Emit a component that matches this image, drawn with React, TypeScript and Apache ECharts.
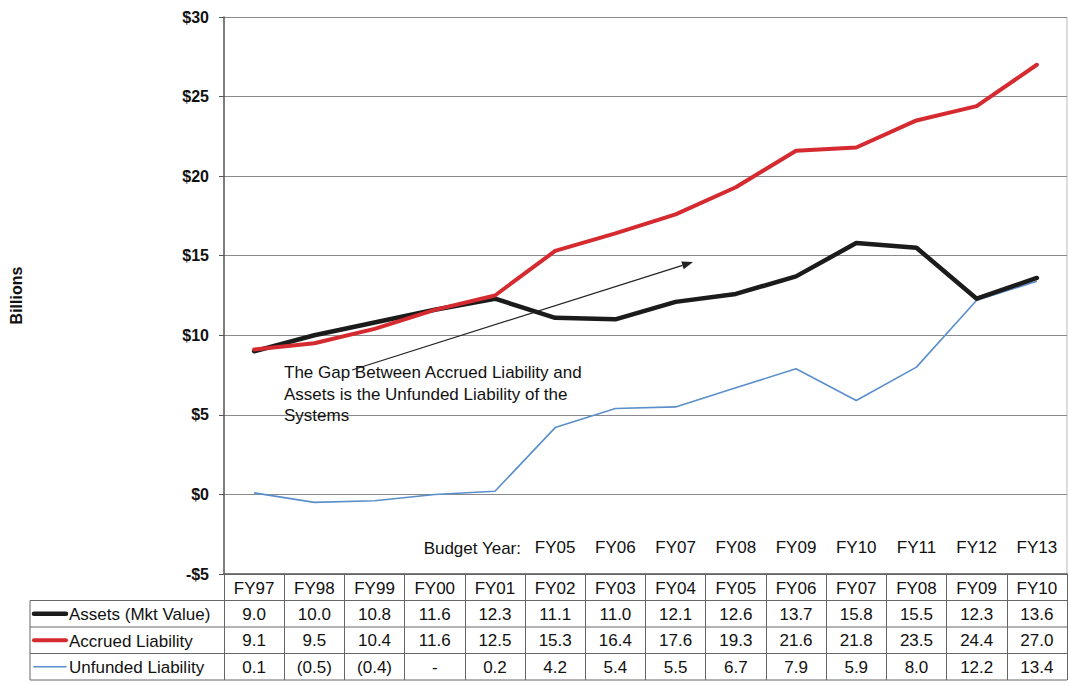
import React, { useEffect, useRef } from "react";
import * as echarts from "echarts";

// Fiscal years shown in the table header
const fiscalYears = ["FY97", "FY98", "FY99", "FY00", "FY01", "FY02", "FY03", "FY04", "FY05", "FY06", "FY07", "FY08", "FY09", "FY10"];
// Budget years printed above the table (aligned with FY02..FY10)
const budgetYears = ["", "", "", "", "", "FY05", "FY06", "FY07", "FY08", "FY09", "FY10", "FY11", "FY12", "FY13"];

// Values in billions of dollars
const assets = [9.0, 10.0, 10.8, 11.6, 12.3, 11.1, 11.0, 12.1, 12.6, 13.7, 15.8, 15.5, 12.3, 13.6];
const accruedLiability = [9.1, 9.5, 10.4, 11.6, 12.5, 15.3, 16.4, 17.6, 19.3, 21.6, 21.8, 23.5, 24.4, 27.0];
const unfundedLiability = [0.1, -0.5, -0.4, 0, 0.2, 4.2, 5.4, 5.5, 6.7, 7.9, 5.9, 8.0, 12.2, 13.4];

const yTicks = { min: -5, max: 30, interval: 5 };

const FONT = "'Liberation Sans', Arial, sans-serif";
const BLACK = "#1b1b1b";
const RED = "#d42a30";
const BLUE = "#5a8fca";
const GRID = "#8a8a8a";
const TXT = 17;

const fmtPlain = (v: number) => v.toFixed(1);
const fmtAccounting = (v: number) => (v === 0 ? "-" : v < 0 ? `(${Math.abs(v).toFixed(1)})` : v.toFixed(1));

export default function App() {
  const ref = useRef<HTMLDivElement>(null);

  useEffect(() => {
    if (!ref.current) return;
    const chart = echarts.init(ref.current, undefined, { renderer: "svg" });

    const gridLeft = 222;
    const gridRight = 2;
    const gridTop = 17;
    const gridBottom = 110;
    const plotBottom = 684 - gridBottom; // 574
    const rowH = 26.5;
    const tableBottom = plotBottom + rowH * 4;

    const rowAxis = (labels: string[], offset: number, margin = 4) => ({
      type: "category" as const,
      data: labels,
      position: "bottom" as const,
      offset,
      boundaryGap: true,
      axisLine: { show: false, onZero: false },
      axisTick: { show: false },
      splitLine: { show: false },
      axisLabel: {
        interval: 0,
        margin,
        color: "#111",
        fontFamily: FONT,
        fontSize: TXT,
        lineHeight: 19,
      },
    });

    const hLine = (x1: number, x2: number, y: number) => ({
      type: "line",
      shape: { x1, y1: y, x2, y2: y },
      style: { stroke: "#666", lineWidth: 1 },
      silent: true,
    });

    const swatch = (y: number, color: string, w: number) => ({
      type: "line",
      shape: { x1: 34, y1: y, x2: 66, y2: y },
      style: { stroke: color, lineWidth: w, lineCap: "round" },
      silent: true,
    });

    const labelText = (y: number, text: string) => ({
      type: "text",
      x: 69,
      y,
      style: { text, font: `${TXT}px ${FONT}`, fill: "#111", verticalAlign: "middle", align: "left" },
      silent: true,
    });

    // Arrow annotation
    const ax1 = 352, ay1 = 370, ax2 = 693, ay2 = 262;
    const dx = ax2 - ax1, dy = ay2 - ay1;
    const len = Math.hypot(dx, dy);
    const ux = dx / len, uy = dy / len;
    const px = -uy, py = ux;
    const headL = 11, headW = 4;
    const bx = ax2 - ux * headL, by = ay2 - uy * headL;

    chart.setOption({
      animation: false,
      backgroundColor: "#ffffff",
      grid: { left: gridLeft, right: gridRight, top: gridTop, bottom: gridBottom, containLabel: false },
      xAxis: [
        {
          type: "category",
          data: fiscalYears,
          boundaryGap: true,
          position: "bottom",
          axisLine: { show: true, onZero: false, lineStyle: { color: "#555", width: 1.5 } },
          axisTick: { show: true, interval: 0, length: rowH * 4, lineStyle: { color: "#666", width: 1 } },
          axisLabel: { interval: 0, margin: 5, color: "#111", fontFamily: FONT, fontSize: TXT, lineHeight: 19 },
          splitLine: { show: false },
        },
        rowAxis(assets.map(fmtPlain), rowH),
        rowAxis(accruedLiability.map(fmtPlain), rowH * 2),
        rowAxis(unfundedLiability.map(fmtAccounting), rowH * 3),
        rowAxis(budgetYears, -36, 0),
      ],
      yAxis: {
        type: "value",
        min: yTicks.min,
        max: yTicks.max,
        interval: yTicks.interval,
        name: "Billions",
        nameLocation: "middle",
        nameRotate: 90,
        nameGap: 200,
        nameTextStyle: { fontFamily: FONT, fontSize: 16, fontWeight: "bold", color: "#111" },
        axisLine: { show: true, lineStyle: { color: "#555", width: 1.5 } },
        axisTick: { show: true, length: 5, lineStyle: { color: "#555" } },
        axisLabel: {
          margin: 15,
          color: "#111",
          fontFamily: FONT,
          fontSize: 16,
          fontWeight: "bold",
          formatter: (v: number) => (v < 0 ? `-$${-v}` : `$${v}`),
        },
        splitLine: { show: true, lineStyle: { color: GRID, width: 1.2 } },
      },
      series: [
        {
          name: "Unfunded Liability",
          type: "line",
          data: unfundedLiability,
          symbol: "none",
          lineStyle: { color: BLUE, width: 1.6 },
          z: 2,
        },
        {
          name: "Assets (Mkt Value)",
          type: "line",
          data: assets,
          symbol: "none",
          lineStyle: { color: BLACK, width: 4.5, cap: "round", join: "round" },
          z: 3,
        },
        {
          name: "Accrued Liability",
          type: "line",
          data: accruedLiability,
          symbol: "none",
          lineStyle: { color: RED, width: 4, cap: "round", join: "round" },
          z: 4,
        },
      ],
      graphic: [
        // plot frame on the right
        {
          type: "line",
          shape: { x1: 1067, y1: gridTop, x2: 1067, y2: plotBottom },
          style: { stroke: "#bbb", lineWidth: 1 },
          silent: true,
        },
        // table rules
        hLine(30, 1067, plotBottom + rowH),
        hLine(30, 1067, plotBottom + rowH * 2),
        hLine(30, 1067, plotBottom + rowH * 3),
        hLine(30, 1067, tableBottom),
        {
          type: "line",
          shape: { x1: 30, y1: plotBottom + rowH, x2: 30, y2: tableBottom },
          style: { stroke: "#666", lineWidth: 1 },
          silent: true,
        },
        // legend column
        swatch(plotBottom + rowH * 1.5, BLACK, 4.5),
        swatch(plotBottom + rowH * 2.5, RED, 4),
        swatch(plotBottom + rowH * 3.5, BLUE, 1.6),
        labelText(plotBottom + rowH * 1.5 + 1, "Assets (Mkt Value)"),
        labelText(plotBottom + rowH * 2.5 + 1, "Accrued Liability"),
        labelText(plotBottom + rowH * 3.5 + 1, "Unfunded Liability"),
        // budget year caption
        {
          type: "text",
          x: 521,
          y: 548,
          style: { text: "Budget Year:", font: `${TXT}px ${FONT}`, fill: "#111", align: "right", verticalAlign: "middle" },
          silent: true,
        },
        // annotation
        {
          type: "line",
          shape: { x1: ax1, y1: ay1, x2: bx, y2: by },
          style: { stroke: "#222", lineWidth: 1.2 },
          silent: true,
          z: 10,
        },
        {
          type: "polygon",
          shape: {
            points: [
              [ax2, ay2],
              [bx + px * headW, by + py * headW],
              [bx - px * headW, by - py * headW],
            ],
          },
          style: { fill: "#222" },
          silent: true,
          z: 10,
        },
        {
          type: "text",
          x: 284,
          y: 362,
          style: {
            text: "The Gap Between Accrued Liability and\nAssets is the Unfunded Liability of the\nSystems",
            font: `${TXT}px ${FONT}`,
            lineHeight: 21.5,
            fill: "#111",
            align: "left",
            verticalAlign: "top",
          },
          silent: true,
          z: 10,
        },
      ],
    });

    return () => chart.dispose();
  }, []);

  return (
    <div
      ref={ref}
      style={{ position: "fixed", left: 0, top: 0, width: 1069, height: 684, background: "#fff" }}
    />
  );
}
